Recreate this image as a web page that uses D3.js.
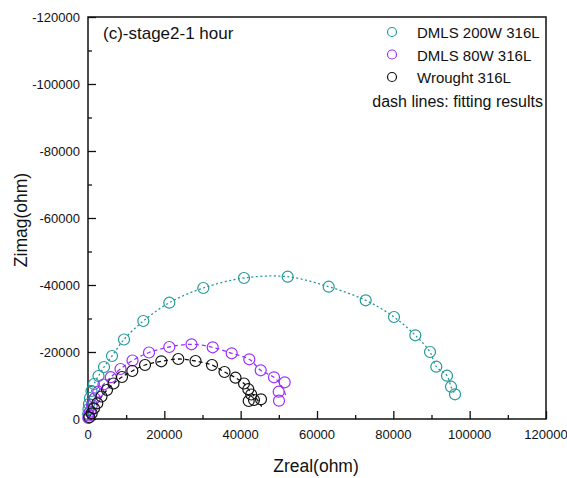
<!DOCTYPE html>
<html>
<head>
<meta charset="utf-8">
<script src="https://cdnjs.cloudflare.com/ajax/libs/d3/7.8.5/d3.min.js"></script>
<style>
  body { margin: 0; background: #fff; }
  svg text { font-family: "Liberation Sans", Arial, sans-serif; fill: #111; }
</style>
</head>
<body>
<svg id="canvas" width="567" height="478"></svg>
<script>
// Zreal / Zimag (ohm)
const dmls200Re = [52, 131, 262, 524, 917, 1572, 2751, 4192, 6288, 9432, 14489, 21301, 30209, 40873, 52322, 63065, 72759, 80175, 85756, 89607, 91258, 94061, 95109, 96157];
const dmls200Im = [-1493, -2985, -4478, -6269, -8358, -10448, -12836, -15522, -18806, -23731, -29254, -34716, -39104, -42089, -42477, -39492, -35433, -30448, -24985, -20000, -15612, -12925, -9642, -7373];

const dmls80Re = [79, 262, 524, 1048, 1755, 2699, 4061, 5974, 8515, 11659, 15983, 21301, 27118, 32672, 37650, 42262, 45249, 48733, 51537, 49965, 50044];
const dmls80Im = [-299, -1045, -2179, -4179, -6179, -8149, -10299, -12478, -14925, -17463, -19851, -21493, -22299, -21403, -19612, -17821, -14537, -12448, -10955, -8149, -5463];

const wroughtRe = [341, 969, 1572, 2437, 3537, 4978, 6681, 8908, 11607, 14935, 19205, 23659, 28166, 32489, 35764, 38646, 40874, 42000, 42760, 42105, 43494, 45328];
const wroughtIm = [-507, -1702, -3194, -4687, -6716, -8657, -10597, -12537, -14328, -16119, -17224, -17910, -17313, -16119, -14030, -12328, -10597, -8896, -7313, -5373, -5672, -5881];

// fitted curves (dash lines)
const fit200Re = dmls200Re;
const fit200Im = dmls200Im;
const fit80Re = [79, 262, 524, 1048, 1755, 2699, 4061, 5974, 8515, 11659, 15983, 21301, 27118, 32672, 37650, 42262, 45249, 48733, 50300, 51300, 52000];
const fit80Im = [-299, -1045, -2179, -4179, -6179, -8149, -10299, -12478, -14925, -17463, -19851, -21493, -22299, -21403, -19612, -17821, -14537, -12448, -10500, -8600, -6300];
const fitWrRe = [341, 969, 1572, 2437, 3537, 4978, 6681, 8908, 11607, 14935, 19205, 23659, 28166, 32489, 35764, 38646, 40874, 42000, 43200, 44200, 45500];
const fitWrIm = [-507, -1702, -3194, -4687, -6716, -8657, -10597, -12537, -14328, -16119, -17224, -17910, -17313, -16119, -14030, -12328, -10597, -8896, -7300, -6000, -3700];

const seriesNames = ["DMLS 200W 316L", "DMLS 80W 316L", "Wrought 316L"];
const seriesColors = ["#23999a", "#9b30ff", "#111111"];

const xTicks = [0, 20000, 40000, 60000, 80000, 100000, 120000];
const yTicks = [0, -20000, -40000, -60000, -80000, -100000, -120000];

const svg = d3.select("#canvas");

const plotL = 88, plotR = 546, plotT = 17, plotB = 419;

const x = d3.scaleLinear().domain([0, 120000]).range([plotL, plotR]);
const y = d3.scaleLinear().domain([0, -120000]).range([plotB, plotT]);

const zip = (a, b) => a.map((v, i) => [v, b[i]]);

// minor ticks (inward)
svg.append("g")
    .attr("transform", "translate(0," + plotB + ")")
    .call(d3.axisTop(x).tickValues(d3.range(10000, 120000, 20000)).tickSize(4).tickFormat(""))
    .call(g => g.select(".domain").remove());
svg.append("g")
    .attr("transform", "translate(" + plotL + ",0)")
    .call(d3.axisRight(y).tickValues(d3.range(-10000, -120000, -20000)).tickSize(4).tickFormat(""))
    .call(g => g.select(".domain").remove());

// major ticks
svg.append("g")
    .attr("transform", "translate(0," + plotB + ")")
    .call(d3.axisTop(x).tickValues(xTicks).tickSize(8).tickFormat(""))
    .call(g => g.select(".domain").remove());
svg.append("g")
    .attr("transform", "translate(" + plotL + ",0)")
    .call(d3.axisRight(y).tickValues(yTicks).tickSize(8).tickFormat(""))
    .call(g => g.select(".domain").remove());

svg.selectAll(".tick line").attr("stroke", "#111").attr("stroke-width", 1.3);

// tick labels
svg.append("g").selectAll("text")
    .data(xTicks)
    .enter()
    .append("text")
    .attr("x", d => x(d))
    .attr("y", plotB + 20)
    .attr("text-anchor", "middle")
    .style("font-size", "13px")
    .text(d => String(d));

svg.append("g").selectAll("text")
    .data(yTicks)
    .enter()
    .append("text")
    .attr("x", plotL - 8)
    .attr("y", d => y(d) + 4.5)
    .attr("text-anchor", "end")
    .style("font-size", "13px")
    .text(d => String(d));

// frame
svg.append("rect")
    .attr("x", plotL).attr("y", plotT)
    .attr("width", plotR - plotL).attr("height", plotB - plotT)
    .attr("fill", "none").attr("stroke", "#111").attr("stroke-width", 1.5);

// axis titles
svg.append("text")
    .attr("x", 316)
    .attr("y", 472)
    .attr("text-anchor", "middle")
    .style("font-size", "17.5px")
    .text("Zreal(ohm)");

svg.append("text")
    .attr("transform", "translate(27," + 220 + ") rotate(-90)")
    .attr("text-anchor", "middle")
    .style("font-size", "17.5px")
    .text("Zimag(ohm)");

svg.append("text")
    .attr("x", 103)
    .attr("y", 39)
    .style("font-size", "17px")
    .text("(c)-stage2-1 hour");

// fit lines
const line = d3.line()
    .x(d => x(d[0]))
    .y(d => y(d[1]))
    .curve(d3.curveCatmullRom.alpha(0.5));

const fits = [
    { pts: zip(fit200Re, fit200Im), color: seriesColors[0], dash: "2,2.5" },
    { pts: zip(fit80Re, fit80Im), color: seriesColors[1], dash: "4,3" },
    { pts: zip(fitWrRe, fitWrIm), color: seriesColors[2], dash: "4,3" }
];

svg.append("g").selectAll("path")
    .data(fits)
    .enter()
    .append("path")
    .attr("d", d => line(d.pts))
    .attr("fill", "none")
    .attr("stroke", d => d.color)
    .attr("stroke-width", 1.3)
    .attr("stroke-dasharray", d => d.dash);

// measured points
const sets = [
    zip(dmls200Re, dmls200Im),
    zip(dmls80Re, dmls80Im),
    zip(wroughtRe, wroughtIm)
];

sets.forEach((pts, i) => {
    svg.append("g").selectAll("circle")
        .data(pts)
        .enter()
        .append("circle")
        .attr("cx", d => x(d[0]))
        .attr("cy", d => y(d[1]))
        .attr("r", 5.5)
        .attr("fill", "none")
        .attr("stroke", seriesColors[i])
        .attr("stroke-width", 1.2);
});

// legend
const legend = svg.append("g").selectAll("g")
    .data(seriesNames)
    .enter()
    .append("g")
    .attr("transform", (d, i) => "translate(392," + (32 + i * 22.5) + ")");

legend.append("circle")
    .attr("r", 4.5)
    .attr("fill", "none")
    .attr("stroke", (d, i) => seriesColors[i])
    .attr("stroke-width", 1.2);

legend.append("text")
    .attr("x", 25)
    .attr("y", 6)
    .style("font-size", "15px")
    .text(d => d);

svg.append("text")
    .attr("x", 543)
    .attr("y", 107)
    .attr("text-anchor", "end")
    .style("font-size", "16px")
    .text("dash lines: fitting results");
</script>
</body>
</html>
